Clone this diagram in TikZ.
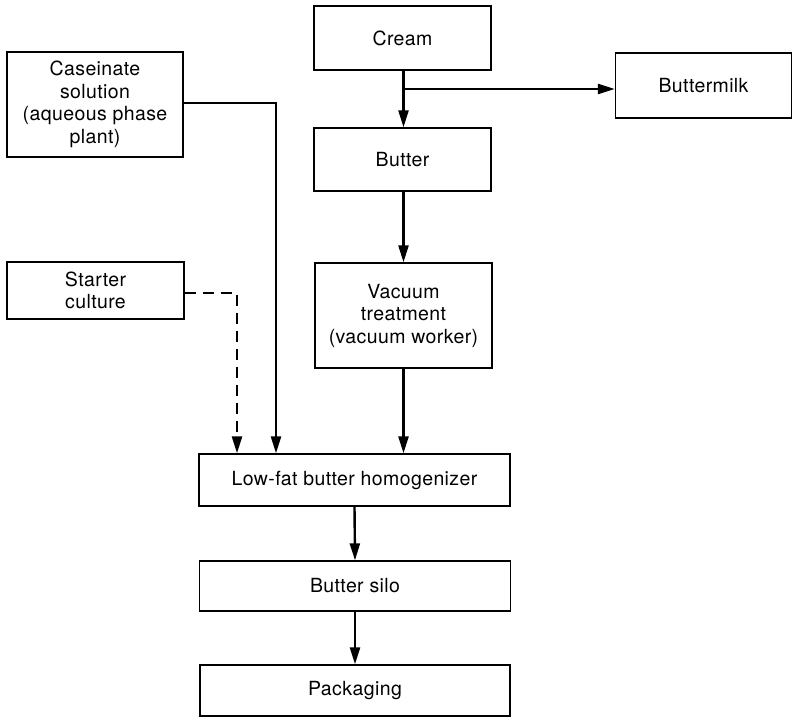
\documentclass[tikz,border=0pt]{standalone}
\usepackage{fontspec}
\setmainfont[LetterSpace=2]{TeX Gyre Heros}
\usetikzlibrary{arrows.meta}
\begin{document}
\begin{tikzpicture}[x=1pt,y=-1pt,
  box/.style={draw, line width=1.3pt, align=center, inner sep=0pt,
    font=\fontsize{19.5}{22.5}\selectfont},
  flow/.style={line width=2.4pt, -{Triangle[length=17pt,width=10pt]}},
  dflow/.style={flow, dash pattern=on 11pt off 7pt}]
\useasboundingbox (0,0) rectangle (792,717);
\node[box, minimum width=177pt, minimum height=64pt] (cream) at (402.5,38) {Cream};
\node[box, minimum width=177pt, minimum height=63pt] (butter) at (402.5,159.5) {Butter};
\node[box, minimum width=176pt, minimum height=65pt] (bmilk) at (703.5,85.5) {Buttermilk};
\node[box, minimum width=176pt, minimum height=105pt] (casein) at (95,104.5) {Caseinate\\solution\\(aqueous phase\\plant)};
\node[box, minimum width=177pt, minimum height=57pt] (starter) at (95.5,290.5) {Starter\\culture};
\node[box, minimum width=177pt, minimum height=105pt] (vacuum) at (403.5,315.5) {Vacuum\\treatment\\(vacuum worker)};
\node[box, minimum width=311pt, minimum height=52pt] (homog) at (354.5,480) {Low-fat butter homogenizer};
\node[box, minimum width=311pt, minimum height=50pt] (silo) at (355,586) {Butter silo};
\node[box, minimum width=310pt, minimum height=51pt] (pack) at (355,690.5) {Packaging};
\coordinate (split) at (403.5,89);
\draw[flow] (cream.south -| split) -- (butter.north -| split);
\draw[flow] (split) -- (split -| bmilk.west);
\draw[flow] (butter.south -| vacuum) -- (vacuum.north);
\draw[flow] (vacuum.south) -- (vacuum.south |- homog.north);
\coordinate (cx) at (276,0);
\coordinate (sx) at (237,0);
\draw[flow] (casein.east |- 0,103) -| (cx |- homog.north);
\draw[dflow] (starter.east |- 0,293) -| (sx |- homog.north);
\draw[flow] (homog.south) -- (silo.north);
\draw[flow] (silo.south) -- (pack.north);
\end{tikzpicture}
\end{document}
